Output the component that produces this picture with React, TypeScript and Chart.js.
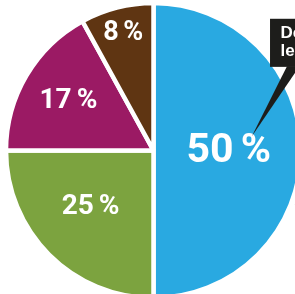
import React, { useEffect, useRef } from "react";
import { Chart, registerables } from "chart.js";

Chart.register(...registerables);

// ---- data ----
const categories = ["Anteil A", "Anteil B", "Anteil C", "Anteil D"];
const values = [50, 25, 17, 8];
const sliceLabels = ["50 %", "25 %", "17 %", "8 %"];
const sliceColors = ["#29A9E1", "#7CA33F", "#9B1A64", "#5F3512"];
const calloutLines = ["De", "le"];

// ---- layout (not data) ----
const CANVAS_W = 307;
const CANVAS_H = 301;
const OUTER_RADIUS = 147.5;
const BORDER = 4.5;
const labelRadiusFactor = [0.51, 0.57, 0.67, 0.825];
const labelAngleShift = [0, 3.5, 0, 0]; // degrees
const labelFontSize = [41, 28, 28, 27];

const labelPlugin = {
  id: "sliceLabels",
  afterDatasetsDraw(chart: any) {
    const ctx = chart.ctx as CanvasRenderingContext2D;
    const meta = chart.getDatasetMeta(0);
    ctx.save();
    meta.data.forEach((arc: any, i: number) => {
      const p = arc.getProps(["x", "y", "startAngle", "endAngle", "outerRadius"], true);
      const mid = (p.startAngle + p.endAngle) / 2 + (labelAngleShift[i] * Math.PI) / 180;
      const r = p.outerRadius * labelRadiusFactor[i];
      const x = p.x + Math.cos(mid) * r;
      const y = p.y + Math.sin(mid) * r;
      ctx.fillStyle = "#ffffff";
      ctx.font = `700 ${labelFontSize[i]}px Roboto, "DejaVu Sans", sans-serif`;
      (ctx as any).wordSpacing = i === 0 ? "-3px" : "-2px";
      ctx.textAlign = "center";
      ctx.textBaseline = "middle";
      ctx.fillText(sliceLabels[i], x, y + 1);
    });
    ctx.restore();
  },
};

const calloutPlugin = {
  id: "callout",
  afterDraw(chart: any) {
    const ctx = chart.ctx as CanvasRenderingContext2D;
    const arc = chart.getDatasetMeta(0).data[0];
    if (!arc) return;
    const p = arc.getProps(["x", "y", "outerRadius"], true);
    const cx = p.x;
    const cy = p.y;
    const R = p.outerRadius;
    ctx.save();
    ctx.fillStyle = "#1d1d1b";
    // pointer
    const boxLeft = cx + 0.79 * R;
    const boxTop = cy - 0.893 * R;
    const boxBottom = cy - 0.567 * R;
    ctx.beginPath();
    ctx.moveTo(cx + 0.905 * R, boxBottom - 0.5);
    ctx.lineTo(cx + 0.99 * R, boxBottom - 0.5);
    ctx.lineTo(cx + 0.666 * R, cy - 0.095 * R);
    ctx.closePath();
    ctx.fill();
    // box
    ctx.fillRect(boxLeft, boxTop, chart.width - boxLeft, boxBottom - boxTop);
    ctx.fillStyle = "#ffffff";
    ctx.font = `700 17px "Liberation Sans", Arial, sans-serif`;
    ctx.textAlign = "left";
    ctx.textBaseline = "alphabetic";
    ctx.fillText(calloutLines[0], boxLeft + 10.5, boxTop + 19.5);
    ctx.fillText(calloutLines[1], boxLeft + 10.5, boxTop + 37.5);
    // small pointer tip from another callout at right edge
    ctx.fillStyle = "#1d1d1b";
    ctx.beginPath();
    ctx.moveTo(cx + 0.955 * R, cy + 0.365 * R);
    ctx.lineTo(cx + 1.05 * R, cy + 0.34 * R);
    ctx.lineTo(cx + 1.05 * R, cy + 0.355 * R);
    ctx.closePath();
    ctx.fill();
    ctx.restore();
  },
};

export default function App() {
  const canvasRef = useRef<HTMLCanvasElement | null>(null);

  useEffect(() => {
    document.body.style.margin = "0";
    const canvas = canvasRef.current;
    if (!canvas) return;
    const chart = new Chart(canvas, {
      type: "pie",
      data: {
        labels: categories,
        datasets: [
          {
            data: values,
            backgroundColor: sliceColors,
            borderColor: "#ffffff",
            borderWidth: BORDER,
            radius: OUTER_RADIUS,
          } as any,
        ],
      },
      options: {
        responsive: false,
        animation: false,
        devicePixelRatio: 1,
        layout: { padding: 0 },
        plugins: {
          legend: { display: false },
          tooltip: { enabled: false },
          title: { display: false },
        },
        events: [],
      },
      plugins: [labelPlugin, calloutPlugin],
    });
    return () => chart.destroy();
  }, []);

  return (
    <div style={{ width: 295, height: 294, overflow: "hidden", position: "relative", background: "#ffffff" }}>
      <canvas
        ref={canvasRef}
        width={CANVAS_W}
        height={CANVAS_H}
        style={{ width: CANVAS_W, height: CANVAS_H, display: "block", position: "absolute", left: 0, top: 0 }}
      />
    </div>
  );
}
